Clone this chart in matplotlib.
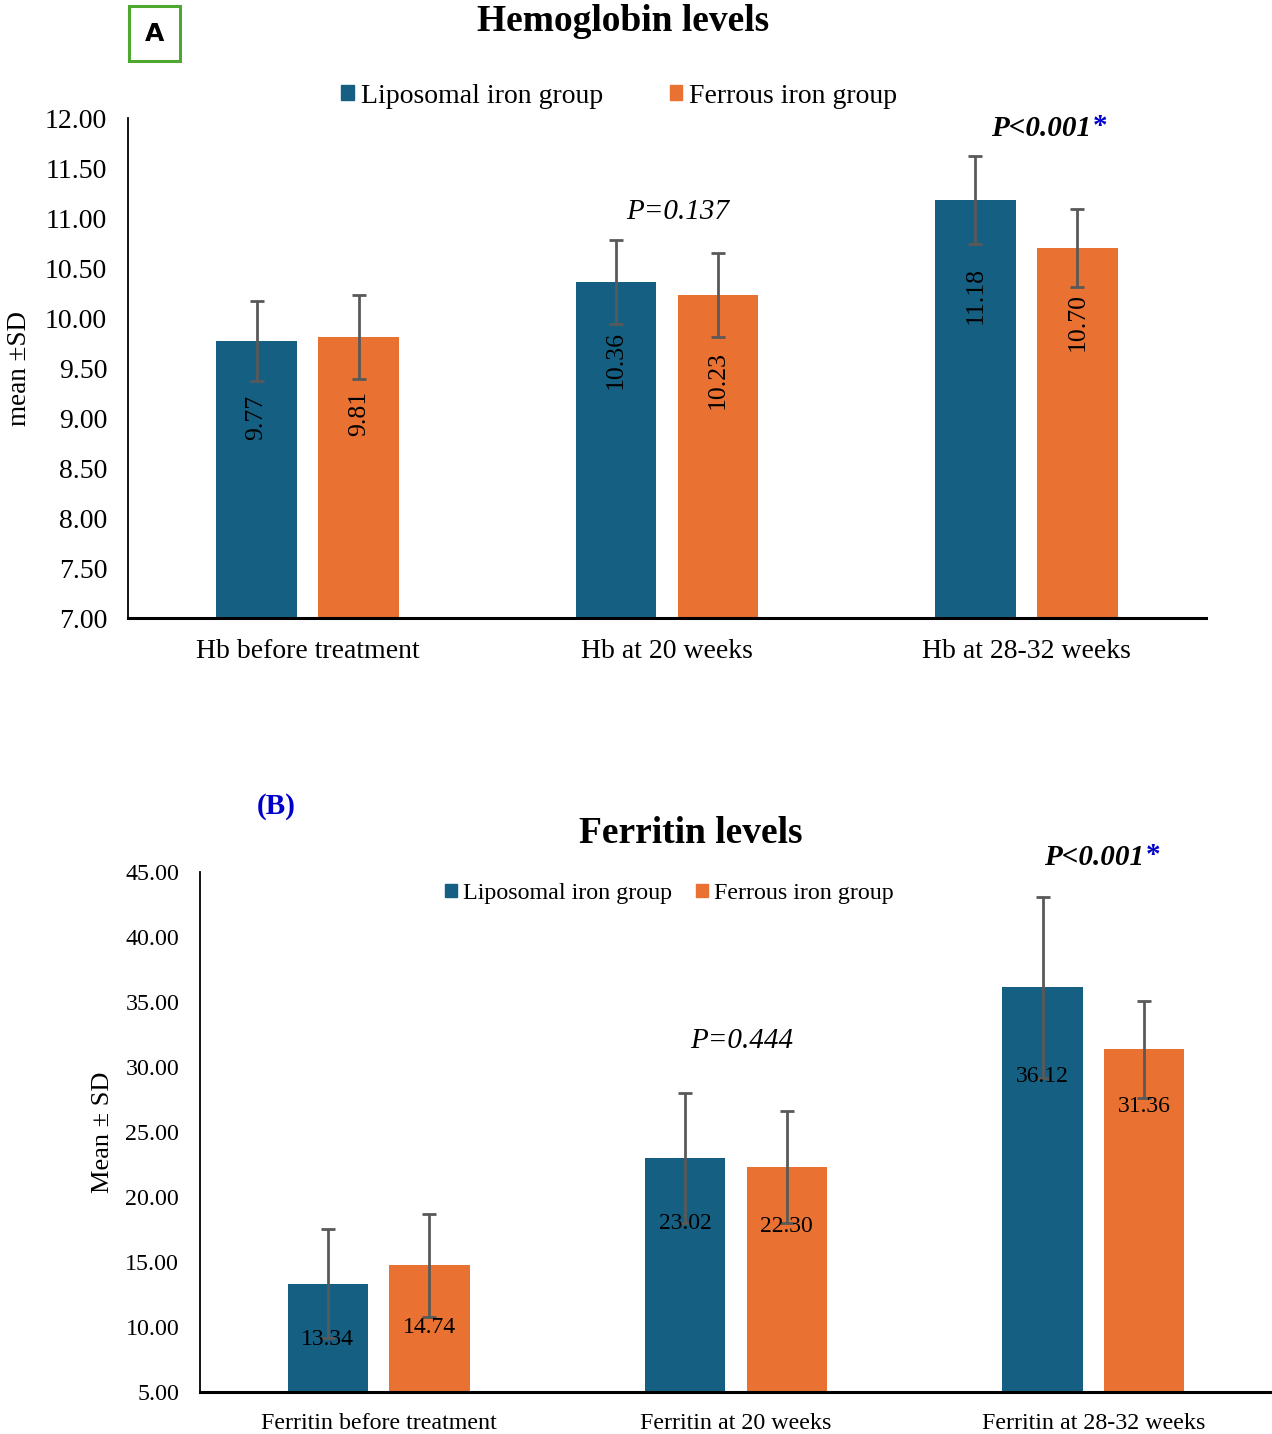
import numpy as np
import matplotlib.pyplot as plt
from matplotlib.patches import Rectangle

plt.rcParams['font.family'] = ['Liberation Serif', 'DejaVu Serif']

groups = ["Liposomal iron group", "Ferrous iron group"]

# hemoglobin
hb_cats = ["Hb before treatment", "Hb at 20 weeks", "Hb at 28-32 weeks"]
hb_lipo = [9.77, 10.36, 11.18]
hb_ferr = [9.81, 10.23, 10.70]
hb_lipo_sd = [0.40, 0.42, 0.44]
hb_ferr_sd = [0.42, 0.42, 0.39]
hb_p = ["P=0.137", "P<0.001"]

# ferritin
fe_cats = ["Ferritin before treatment", "Ferritin at 20 weeks", "Ferritin at 28-32 weeks"]
fe_lipo = [13.34, 23.02, 36.12]
fe_ferr = [14.74, 22.30, 31.36]
fe_lipo_sd = [4.17, 5.00, 6.97]
fe_ferr_sd = [3.94, 4.30, 3.72]
fe_p = ["P=0.444", "P<0.001"]

blue = "#156082"
orange = "#E97132"
errc = "#595959"

fig = plt.figure(figsize=(12.72, 14.34), dpi=100)


def panel(ax, cats, lipo, ferr, lsd, fsd, ylim, step, fs, lfs, rot, drops_l, drops_f, ylab, yfs):
    x = np.arange(len(cats))
    w = 0.225
    ax.bar(x - 0.142, lipo, w, color=blue, bottom=0)
    ax.bar(x + 0.142, ferr, w, color=orange, bottom=0)
    ax.errorbar(x - 0.142, lipo, yerr=lsd, fmt='none', ecolor=errc, elinewidth=2, capsize=5, capthick=2)
    ax.errorbar(x + 0.142, ferr, yerr=fsd, fmt='none', ecolor=errc, elinewidth=2, capsize=5, capthick=2)
    for xi, v, d in zip(x - 0.142, lipo, drops_l):
        ax.annotate(f"{v:.2f}", (xi, v), xytext=(0, -d * 0.72), textcoords='offset points',
                    ha='center', va='center', rotation=rot, fontsize=lfs, color='black')
    for xi, v, d in zip(x + 0.142, ferr, drops_f):
        ax.annotate(f"{v:.2f}", (xi, v), xytext=(0, -d * 0.72), textcoords='offset points',
                    ha='center', va='center', rotation=rot, fontsize=lfs, color='black')
    ax.set_xlim(-0.5, len(cats) - 0.5)
    ax.set_ylim(*ylim)
    ticks = np.arange(ylim[0], ylim[1] + step / 2, step)
    ax.set_yticks(ticks)
    ax.set_yticklabels([f"{t:.2f}" for t in ticks])
    ax.set_xticks(x)
    ax.set_xticklabels(cats)
    ax.tick_params(length=0, labelsize=fs, pad=15)
    ax.spines['top'].set_visible(False)
    ax.spines['right'].set_visible(False)
    ax.spines['left'].set_linewidth(1.3)
    ax.spines['bottom'].set_linewidth(2.2)
    ax.set_ylabel(ylab, fontsize=yfs)


def pstar(ax, xr, y, label, fs):
    ax.text(xr, y, label, ha='right', va='center', fontsize=fs, style='italic', weight='bold', clip_on=False)
    ax.annotate("*", (xr, y), xytext=(1, 1), textcoords='offset points', ha='left', va='center',
                fontsize=fs, weight='bold', color='#0000CC', annotation_clip=False)


# panel A
ax1 = fig.add_axes([0.1006, 0.5690, 0.8475, 0.3487])
panel(ax1, hb_cats, hb_lipo, hb_ferr, hb_lipo_sd, hb_ferr_sd, (7, 12), 0.5, 20, 18.5, 90,
      [76, 78, 95], [76, 85, 74], "mean \u00b1SD", 19.5)
ax1.yaxis.set_label_coords(-0.089, 0.5)
ax1.text(1.03, 11.06, hb_p[0], ha='center', va='center', fontsize=21, style='italic')
pstar(ax1, 2.18, 11.9, hb_p[1], 21)
fig.text(0.49, 0.985, "Hemoglobin levels", ha='center', va='center', fontsize=27, weight='bold')
fig.legend(handles=[Rectangle((0, 0), 1, 1, color=blue), Rectangle((0, 0), 1, 1, color=orange)],
           labels=groups, loc='center', bbox_to_anchor=(0.487, 0.933), ncol=2, frameon=False,
           fontsize=20, handlelength=0.45, handleheight=0.45, handletextpad=0.25, columnspacing=2.4)
fig.text(0.1215, 0.9765, "A", ha='center', va='center', fontsize=18, weight='bold',
         family='DejaVu Sans', bbox=dict(boxstyle='square,pad=0.62', fc='white', ec='#4EA72E', lw=2.2))

# panel B
ax2 = fig.add_axes([0.1572, 0.0293, 0.8428, 0.3626])
panel(ax2, fe_cats, fe_lipo, fe_ferr, fe_lipo_sd, fe_ferr_sd, (5, 45), 5, 17.3, 17, 0,
      [56, 66, 89], [62, 59, 57], "Mean \u00b1 SD", 19)
ax2.yaxis.set_label_coords(-0.08, 0.5)
ax2.text(1.015, 32.0, fe_p[0], ha='center', va='center', fontsize=21, style='italic')
pstar(ax2, 2.143, 46.15, fe_p[1], 21)
fig.text(0.543, 0.419, "Ferritin levels", ha='center', va='center', fontsize=27, weight='bold')
fig.text(0.2175, 0.4379, "(B)", ha='center', va='center', fontsize=21, weight='bold', color='#0000CC')
fig.legend(handles=[Rectangle((0, 0), 1, 1, color=blue), Rectangle((0, 0), 1, 1, color=orange)],
           labels=groups, loc='center', bbox_to_anchor=(0.526, 0.377), ncol=2, frameon=False,
           fontsize=17.3, handlelength=0.5, handleheight=0.5, handletextpad=0.25, columnspacing=1.0)

fig.savefig("out.png", dpi=100)
